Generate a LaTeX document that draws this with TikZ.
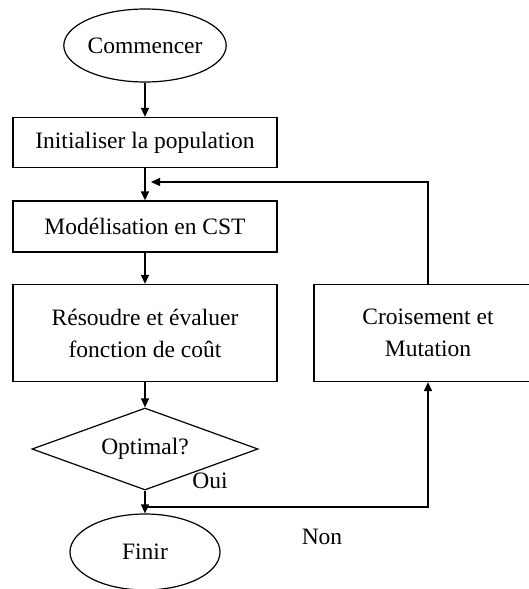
\documentclass[tikz,border=0pt]{standalone}
\usepackage{fontspec}
\setmainfont{Liberation Serif}
\usetikzlibrary{arrows.meta,shapes.geometric}

\begin{document}
\begin{tikzpicture}[x=1pt, y=-1pt,
  font=\fontsize{23.5}{32}\selectfont,
  term/.style={draw, ellipse, line width=1.2pt, inner sep=0pt},
  proc/.style={draw, rectangle, line width=1.3pt, inner sep=0pt,
    minimum width=264pt},
  decide/.style={draw, diamond, shape aspect=2.75, line width=1.2pt,
    inner sep=0pt, minimum width=226pt, minimum height=82pt},
  lnk/.style={-{Triangle[length=9pt,width=8pt]}, line width=1.3pt},
  lbl/.style={inner sep=0pt},
]
\useasboundingbox (0,0) rectangle (529,589);
% main column
\node[term, minimum width=157pt, minimum height=73pt] (start) at (145,45.5) {Commencer};
\node[proc, minimum height=50pt] (init) at (145,142.5) {Initialiser la population};
\node[proc, minimum height=51pt] (model) at (145,226.5) {Modélisation en CST};
\node[proc, minimum height=97pt, align=center] (solve) at (145,333)
  {Résoudre et évaluer\\fonction de coût};
\node[decide] (opt) at (145,449) {Optimal?};
\node[term, minimum width=150pt, minimum height=76pt] (finish) at (145,552) {Finir};
% loop back
\node[proc, minimum width=228pt, minimum height=97pt, align=center] (cross) at (428,333)
  {Croisement et\\Mutation};
\node[lbl] (oui) at (210,481) {Oui};
\node[lbl] (non) at (322,537) {Non};
\coordinate (back) at (151,182);
\coordinate (split) at (145,507);

\draw[lnk] (start) -- (init);
\draw[lnk] (init) -- (model);
\draw[lnk] (model) -- (solve);
\draw[lnk] (solve) -- (opt);
\draw[lnk] (opt) -- (finish);
\draw[lnk] (cross.north) |- (back);
\draw[lnk] (split) -| (cross.south);
\end{tikzpicture}
\end{document}
